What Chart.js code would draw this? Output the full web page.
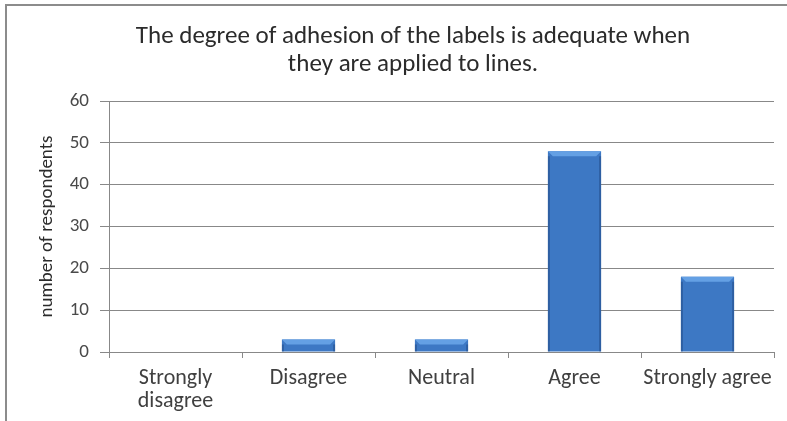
<!DOCTYPE html>
<html>
<head>
<meta charset="utf-8">
<script src="https://cdn.jsdelivr.net/npm/chart.js@4"></script>
<style>
  html, body { margin: 0; padding: 0; background: #fff; }
  #wrap { position: relative; width: 787px; height: 421px; overflow: hidden; }
  #frame { position: absolute; left: 5px; top: 4px; width: 800px; height: 500px;
           border-left: 2px solid #8c8c8c; border-top: 2px solid #8c8c8c; }
  canvas { position: absolute; left: 0; top: 0; }
</style>
</head>
<body>
<div id="wrap">
  <div id="frame"></div>
  <canvas id="myChart" width="787" height="421"></canvas>
</div>
<script>
let categories = [['Strongly', 'disagree'], 'Disagree', 'Neutral', 'Agree', 'Strongly agree'];
let respondents = [0, 3, 3, 48, 18];
let yTicks = [0, 10, 20, 30, 40, 50, 60];
let titleLines = ['The degree of adhesion of the labels is adequate when', 'they are applied to lines.'];
let yTitle = 'number of respondents';

const fontFam = 'Carlito, Calibri, "Open Sans", sans-serif';

// bar fill: darker at the sides, lighter in the middle
function barFill(ctx) {
  let el = ctx.element;
  if (!el || el.x === undefined) return '#3d78c4';
  let w = el.width || 53;
  let g = ctx.chart.ctx.createLinearGradient(el.x - w / 2, 0, el.x + w / 2, 0);
  g.addColorStop(0, '#2a5a9a');
  g.addColorStop(0.12, '#3a74bd');
  g.addColorStop(0.5, '#4282cf');
  g.addColorStop(0.88, '#3a74bd');
  g.addColorStop(1, '#2a5a9a');
  return g;
}

// top bevel like the office 3d look
const bevel = {
  id: 'bevel',
  afterDatasetsDraw(chart) {
    let c = chart.ctx;
    chart.getDatasetMeta(0).data.forEach(function (bar) {
      let h = bar.base - bar.y;
      if (h < 1) return;
      let l = bar.x - bar.width / 2, r = bar.x + bar.width / 2, t = bar.y;
      let d = Math.min(5, h / 2);
      c.save();
      c.fillStyle = '#64a0e4';
      c.beginPath();
      c.moveTo(l, t); c.lineTo(r, t); c.lineTo(r - d, t + d); c.lineTo(l + d, t + d);
      c.closePath(); c.fill();
      c.fillStyle = 'rgba(20,50,100,0.35)';
      c.fillRect(l, t + d, 2, h - d);
      c.fillRect(r - 2, t + d, 2, h - d);
      c.restore();
    });
  }
};

let ctx = document.getElementById('myChart').getContext('2d');
let myChart = new Chart(ctx, {
  type: 'bar',
  data: {
    labels: categories,
    datasets: [{
      data: respondents,
      backgroundColor: barFill,
      borderWidth: 0,
      barPercentage: 0.4,
      categoryPercentage: 1
    }]
  },
  options: {
    responsive: false,
    animation: false,
    // left padding is wide so the title centre sits where the original has it
    layout: { padding: { left: 52, right: 13, top: 23, bottom: 0 } },
    plugins: {
      legend: { display: false },
      tooltip: { enabled: false },
      title: {
        display: true,
        text: titleLines,
        color: '#2b2b2b',
        font: { family: fontFam, size: 25, weight: 'normal', lineHeight: 1.12 },
        padding: { top: 0, bottom: 22 }
      }
    },
    scales: {
      x: {
        grid: { offset: true, drawOnChartArea: false, drawTicks: true, tickLength: 6, color: '#888' },
        border: { display: true, color: '#888' },
        ticks: { color: '#404040', padding: 9, font: { family: fontFam, size: 22, lineHeight: 1.05 }, maxRotation: 0, autoSkip: false },
        afterFit(s) { s.height = 69; }
      },
      y: {
        min: 0, max: 60,
        afterBuildTicks(s) { s.ticks = yTicks.map(v => ({ value: v })); },
        grid: { color: '#888', tickLength: 9 },
        border: { display: true, color: '#888' },
        ticks: { color: '#4a4a4a', padding: 11, font: { family: fontFam, size: 19 } },
        title: { display: true, text: yTitle, color: '#2b2b2b', padding: { top: -16, bottom: 0 }, font: { family: fontFam, size: 19 } },
        afterFit(s) { s.width = 57; }
      }
    }
  },
  plugins: [bevel]
});
</script>
</body>
</html>
